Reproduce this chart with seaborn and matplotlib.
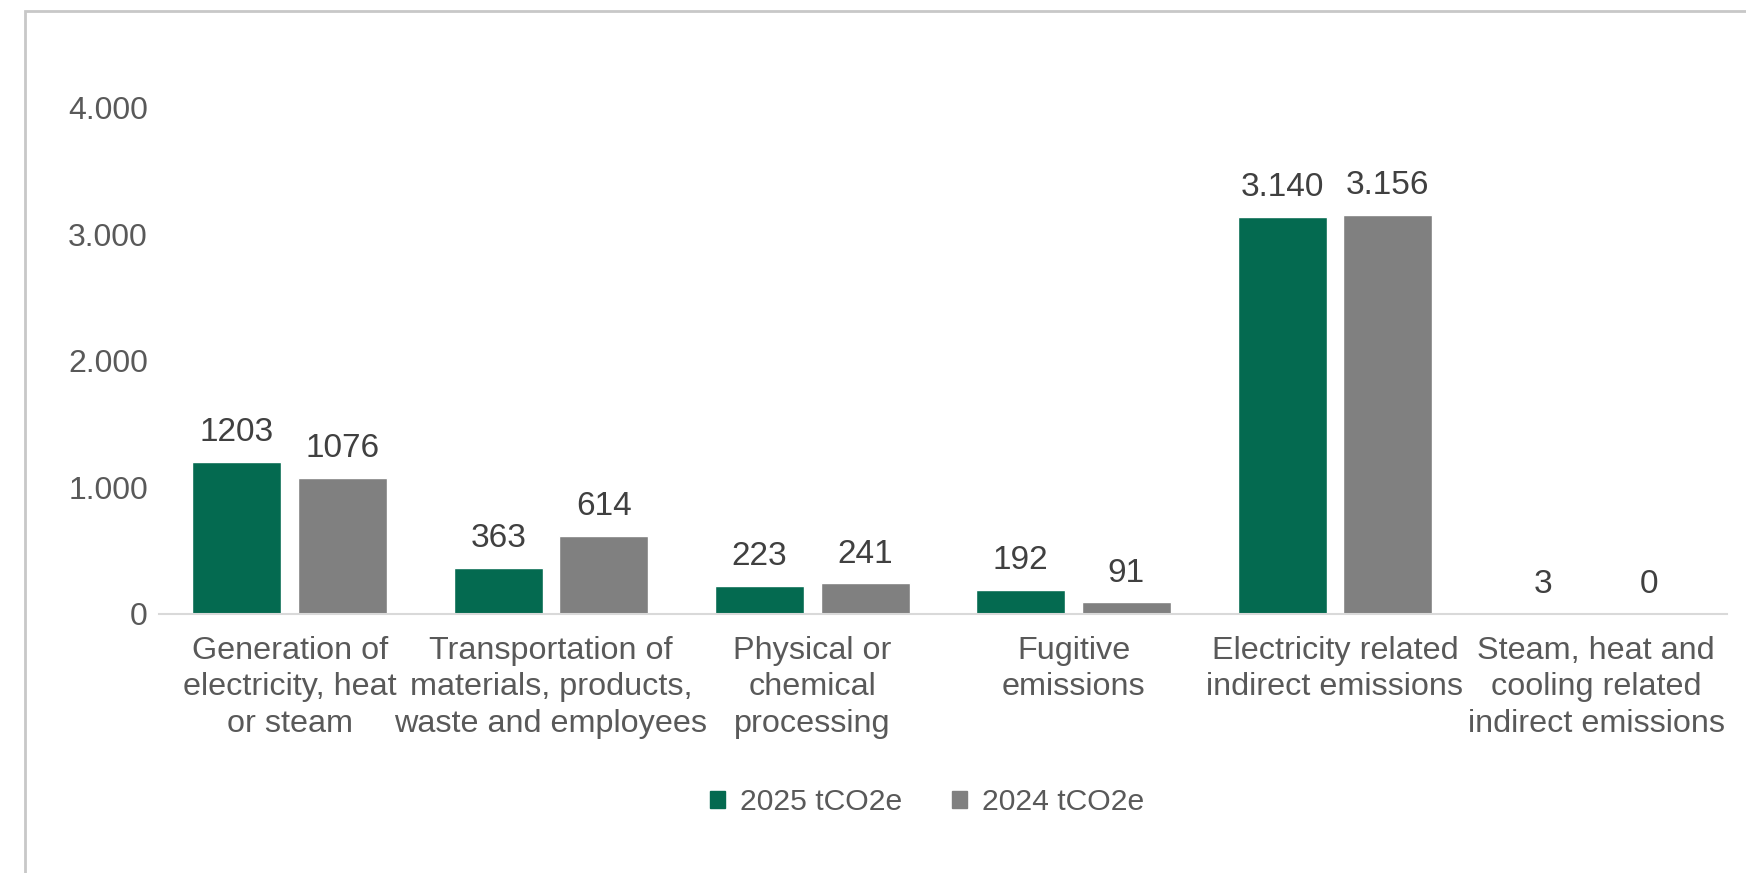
import matplotlib
matplotlib.use("Agg")
import matplotlib.pyplot as plt
import matplotlib.patches as mpatches
import seaborn as sns
import pandas as pd

categories = [
    "Generation of\nelectricity, heat\nor steam",
    "Transportation of\nmaterials, products,\nwaste and employees",
    "Physical or\nchemical\nprocessing",
    "Fugitive\nemissions",
    "Electricity related\nindirect emissions",
    "Steam, heat and\ncooling related\nindirect emissions",
]
series_names = ["2025 tCO2e", "2024 tCO2e"]
values_2025 = [1203, 363, 223, 192, 3140, 3]
values_2024 = [1076, 614, 241, 91, 3156, 0]
labels_2025 = ["1203", "363", "223", "192", "3.140", "3"]
labels_2024 = ["1076", "614", "241", "91", "3.156", "0"]
y_ticks = [0, 1000, 2000, 3000, 4000]
y_tick_labels = ["0", "1.000", "2.000", "3.000", "4.000"]

colors = ["#046A50", "#808080"]

df = pd.DataFrame({
    "category": categories * 2,
    "series": [series_names[0]] * 6 + [series_names[1]] * 6,
    "value": values_2025 + values_2024,
})

sns.set_theme(style="white")
plt.rcParams["font.family"] = ["Liberation Sans", "DejaVu Sans"]

fig = plt.figure(figsize=(17.46, 8.73), dpi=100)
ax = fig.add_axes([0.0911, 0.2967, 0.8979, 0.5796])

sns.barplot(data=df, x="category", y="value", hue="series", order=categories,
            hue_order=series_names, palette=colors, width=0.808, gap=0.158,
            saturation=1, ax=ax, legend=False)

for cont, labs in zip(ax.containers, [labels_2025, labels_2024]):
    ax.bar_label(cont, labels=labs, padding=10, fontsize=24, color="#404040")

ax.set_ylim(0, 4000)
ax.set_xlim(-0.5, 5.5)
ax.set_yticks(y_ticks)
ax.set_yticklabels(y_tick_labels)
ax.tick_params(axis="y", length=0, pad=8, labelsize=23, labelcolor="#595959")
ax.tick_params(axis="x", length=0, pad=16, labelsize=23.3, labelcolor="#595959")
for lab in ax.get_xticklabels():
    lab.set_linespacing(1.27)
ax.set_xlabel("")
ax.set_ylabel("")
for s in ["top", "right", "left"]:
    ax.spines[s].set_visible(False)
ax.spines["bottom"].set_color("#D9D9D9")
ax.spines["bottom"].set_linewidth(1.5)
ax.grid(False)

handles = [mpatches.Patch(color=c, label=n) for c, n in zip(colors, series_names)]
leg = fig.legend(handles=handles, loc="center", bbox_to_anchor=(0.531, 0.081), ncol=2,
                 frameon=False, fontsize=21.7, handlelength=0.5, handleheight=0.5,
                 handletextpad=0.5, columnspacing=1.63)
for t in leg.get_texts():
    t.set_color("#595959")

border = mpatches.Rectangle((25 / 1746, -0.1), 1.2, (873 - 11) / 873 + 0.1,
                            transform=fig.transFigure, fill=False,
                            edgecolor="#C8C8C8", linewidth=2)
fig.patches.append(border)

fig.savefig("out.png", dpi=100)
